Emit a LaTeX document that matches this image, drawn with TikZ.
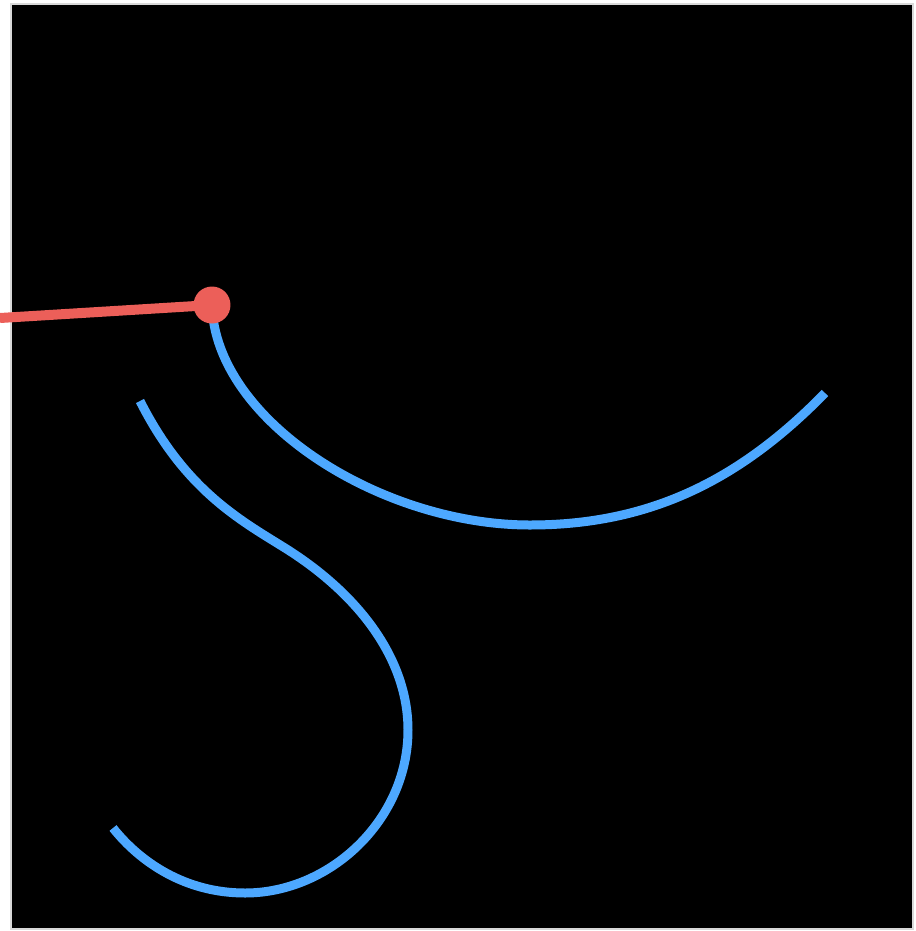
\documentclass[tikz,border=0pt]{standalone}
\usepackage{tikz}
\usetikzlibrary{positioning,calc}

\definecolor{penred}{HTML}{EC5F59}
\definecolor{penblue}{HTML}{4DA8FF}

\begin{document}
\begin{tikzpicture}[x=0.02cm, y=-0.02cm,
    arm/.style={draw=penred, line width=0.2cm},
    stroke/.style={draw=penblue, line width=0.18cm},
    knob/.style={circle, fill=penred, inner sep=0pt, minimum size=0.74cm}]
    \useasboundingbox (0,0) rectangle (916,931);
    \fill[black!15] (10,3) rectangle (914,930);
    \fill[black] (12,5) rectangle (912,928);

    \coordinate (pivot) at (212,305);
    \coordinate (armend) at (0,318);
    \coordinate (s1) at (140,401);
    \coordinate (s2) at (113,828);

    \draw[arm] (armend) -- (pivot);
    \draw[stroke] (pivot) .. controls (215,420) and (380,525) .. (530,525)
        .. controls (650,525) and (740,480) .. (825,393);
    \draw[stroke] (s1) .. controls (185,490) and (240,520) .. (285,548)
        .. controls (360,595) and (408,660) .. (408,730)
        .. controls (408,820) and (330,893) .. (245,893)
        .. controls (185,893) and (140,862) .. (s2);
    \node[knob] (dot) at (pivot) {};
\end{tikzpicture}
\end{document}
